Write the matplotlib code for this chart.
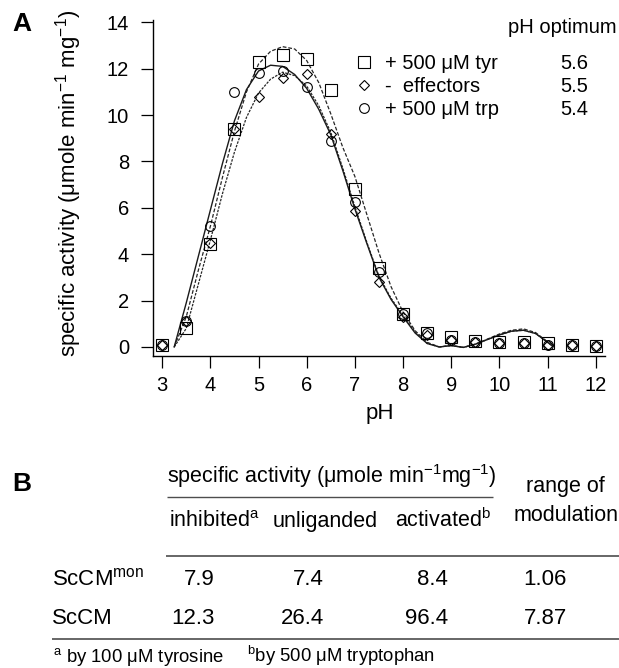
import numpy as np
import matplotlib
matplotlib.use('Agg')
import matplotlib.pyplot as plt
from matplotlib.lines import Line2D

plt.rcParams['font.family'] = ['Liberation Sans', 'DejaVu Sans']
plt.rcParams['mathtext.fontset'] = 'custom'
plt.rcParams['mathtext.rm'] = 'Liberation Sans'
plt.rcParams['mathtext.it'] = 'Liberation Sans:italic'
plt.rcParams['mathtext.bf'] = 'Liberation Sans:bold'

# --- panel A data: measured points ---
ph = [3, 3.5, 4, 4.5, 5, 5.5, 6, 6.5, 7, 7.5, 8, 8.5, 9, 9.5, 10, 10.5, 11, 11.5, 12]
act_tyr = [0.1, 0.8, 4.45, 9.4, 12.3, 12.6, 12.4, 11.1, 6.8, 3.4, 1.4, 0.6, 0.45, 0.25, 0.2, 0.2, 0.15, 0.1, 0.05]
act_eff = [0.1, 1.1, 4.5, 9.4, 10.8, 11.6, 11.75, 9.2, 5.85, 2.8, 1.3, 0.5, 0.3, 0.2, 0.15, 0.15, 0.1, 0.1, 0.05]
act_trp = [0.1, 1.1, 5.2, 11.0, 11.8, 11.9, 11.2, 8.9, 6.25, 3.25, 1.4, 0.6, 0.3, 0.2, 0.15, 0.15, 0.1, 0.1, 0.05]

# fitted curves
ph_fit = [3.25, 3.5, 3.75, 4.0, 4.25, 4.5, 4.75, 5.0, 5.25, 5.5, 5.75, 6.0, 6.25, 6.5, 6.75,
          7.0, 7.25, 7.5, 7.75, 8.0, 8.25, 8.5, 8.75, 9.0, 9.25, 9.5, 9.75, 10.0, 10.25,
          10.5, 10.75, 11.0, 11.1]
fit_tyr = [0.0, 1.3, 3.3, 5.2, 7.3, 9.3, 11.0, 12.2, 12.75, 12.95, 12.85, 12.35, 11.4, 10.05, 8.6,
           7.35, 5.7, 4.05, 2.6, 1.5, 0.7, 0.2, 0.0, 0.06, -0.02, 0.12, 0.34, 0.56, 0.72,
           0.78, 0.62, 0.22, 0.05]
fit_eff = [0.0, 0.8, 2.7, 4.6, 6.6, 8.4, 9.9, 10.95, 11.55, 11.85, 11.7, 11.25, 10.4, 9.25, 7.7,
           6.05, 4.5, 3.05, 2.1, 1.35, 0.65, 0.15, 0.0, 0.06, -0.02, 0.12, 0.32, 0.52, 0.68,
           0.72, 0.58, 0.2, 0.04]
fit_trp = [0.0, 1.9, 3.9, 5.9, 7.9, 9.75, 11.1, 11.9, 12.15, 12.1, 11.75, 11.15, 10.25, 9.15, 7.6,
           5.95, 4.45, 3.0, 2.05, 1.3, 0.6, 0.15, 0.0, 0.06, -0.02, 0.12, 0.32, 0.52, 0.68,
           0.72, 0.58, 0.2, 0.04]

leg_labels = ['+ 500 \u03bcM tyr', '-  effectors', '+ 500 \u03bcM trp']
ph_opt = ['5.6', '5.5', '5.4']

# --- panel B data: table ---
row_labels = ['ScCM$^{\\mathrm{mon}}$', 'ScCM']
inhibited = [7.9, 12.3]
unliganded = [7.4, 26.4]
activated = [8.4, 96.4]
modulation = [1.06, 7.87]

W, H = 619, 668
fig = plt.figure(figsize=(W/100, H/100), dpi=100, facecolor='white')

# panel A axes, placed in pixels
l, r, t, b = 153, 605, 20, 356
ax = fig.add_axes([l/W, 1 - b/H, (r - l)/W, (b - t)/H])
ax.set_facecolor('none')

ax.plot(ph_fit, fit_tyr, color='0.15', lw=0.9, ls=(0, (3, 1.5)))
ax.plot(ph_fit, fit_eff, color='0.15', lw=0.9, ls=(0, (2, 1)))
ax.plot(ph_fit, fit_trp, color='0.1', lw=1.0, ls='-')

mk = dict(ls='none', mfc='none', mec='black', mew=0.8)
h1, = ax.plot(ph, act_tyr, marker='s', ms=8.5, **mk)
h2, = ax.plot(ph, act_eff, marker='D', ms=4.8, **mk)
h3, = ax.plot(ph, act_trp, marker='o', ms=7.0, **mk)

ax.set_xlim(2.81, 12.19)
ax.set_ylim(-0.39, 14.1)
ax.set_xticks(range(3, 13))
ax.set_yticks(range(0, 15, 2))
ax.spines['top'].set_visible(False)
ax.spines['right'].set_visible(False)
for s in ['left', 'bottom']:
    ax.spines[s].set_linewidth(1.0)
ax.tick_params(axis='y', direction='out', length=8.3, width=0.9, pad=9, labelsize=14.5)
ax.tick_params(axis='x', direction='out', length=8.6, width=0.9, pad=6, labelsize=14.5)

ax.set_ylabel('specific activity (\u03bcmole min$^{-1}$ mg$^{-1}$)', fontsize=16, va='center')
ax.yaxis.set_label_coords(-0.186, 0.515)
ax.set_xlabel('pH', fontsize=16, va='center')
ax.xaxis.set_label_coords(0.502, -0.17)

blank = Line2D([], [], ls='none', marker='none')
leg = ax.legend([h1, h2, h3, blank, blank, blank], leg_labels + ph_opt, ncol=2,
                loc='upper right', bbox_to_anchor=(588/W, 1 - 54/H), bbox_transform=fig.transFigure,
                frameon=False, fontsize=14.5, handlelength=0.8, handletextpad=0.6,
                columnspacing=1.65, labelspacing=0.2, borderpad=0, borderaxespad=0)

# panel B: table drawn on an overlay in pixel coordinates
tb = fig.add_axes([0, 0, 1, 1])
tb.set_xlim(0, W)
tb.set_ylim(H, 0)
tb.axis('off')

tb.text(617, 33, 'pH optimum', fontsize=14.5, va='baseline', ha='right')

tb.text(12, 31, 'A', fontsize=19, fontweight='bold', va='baseline')
tb.text(12, 491, 'B', fontsize=19, fontweight='bold', va='baseline')

tb.text(167, 483, 'specific activity (\u03bcmole min$^{-1}$mg$^{-1}$)', fontsize=15.5, va='baseline')
tb.hlines(497, 167, 493, color='0.3', lw=1.0)
tb.text(169, 527, 'inhibited$^{\\mathrm{a}}$', fontsize=15.5, va='baseline')
tb.text(273, 527, 'unliganded', fontsize=15.5, va='baseline')
tb.text(395, 527, 'activated$^{\\mathrm{b}}$', fontsize=15.5, va='baseline')
tb.text(565, 492, 'range of', fontsize=15.5, va='baseline', ha='center')
tb.text(566, 521, 'modulation', fontsize=15.5, va='baseline', ha='center')
tb.hlines(556, 166, W, color='0.3', lw=1.2)

row_y = [585, 624]
for i, y in enumerate(row_y):
    tb.text(52, y, row_labels[i], fontsize=16, va='baseline')
    tb.text(215, y, '%.1f' % inhibited[i], fontsize=16, va='baseline', ha='right')
    tb.text(324, y, '%.1f' % unliganded[i], fontsize=16, va='baseline', ha='right')
    tb.text(448, y, '%.1f' % activated[i], fontsize=16, va='baseline', ha='right')
    tb.text(567, y, '%.2f' % modulation[i], fontsize=16, va='baseline', ha='right')

tb.hlines(639, 52, W, color='0.3', lw=1.2)
tb.text(53, 662, '$^{\\mathrm{a}}$ by 100 \u03bcM tyrosine', fontsize=13.3, va='baseline')
tb.text(247, 662, '$^{\\mathrm{b}}$by 500 \u03bcM tryptophan', fontsize=13.3, va='baseline')

fig.savefig('out.png', dpi=100, facecolor='white')
